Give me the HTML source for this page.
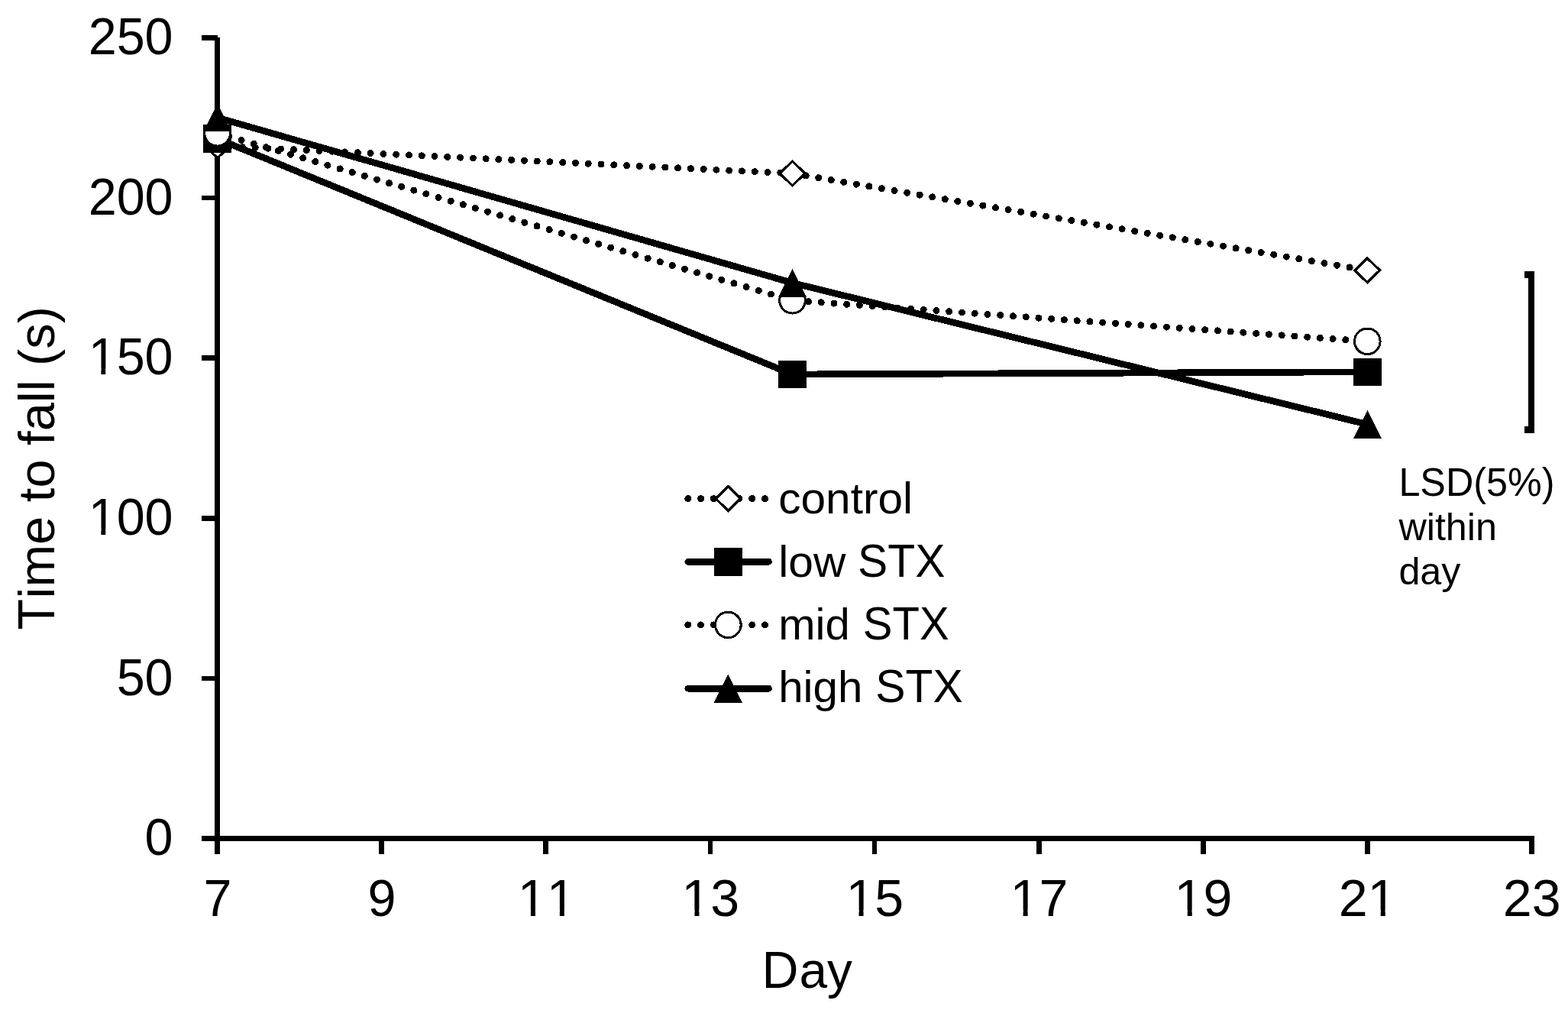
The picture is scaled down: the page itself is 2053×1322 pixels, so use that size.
<!DOCTYPE html>
<html lang="en">
<head>
<meta charset="utf-8">
<title>Time to fall (s) by Day</title>
<style>
html,body{margin:0;padding:0;background:#fff;}
body{width:2053px;height:1322px;overflow:hidden;}
svg{display:block;}
text{font-family:"Liberation Sans",Arial,Helvetica,sans-serif;fill:#000;font-kerning:none;white-space:pre;}
.ax{font-size:66.5px;}
.lg{font-size:58px;}
.ls{font-size:50.3px;}
</style>
</head>
<body>
<svg width="2053" height="1322" viewBox="0 0 2053 1322" shape-rendering="crispEdges" role="img" aria-label="Time to fall (s) against Day for control, low STX, mid STX and high STX">
<rect width="2053" height="1322" fill="#fff"/>

<g fill="#000">
<rect x="281.2" y="48.6" width="6.8" height="1069.4"/>
<rect x="264.2" y="1094.2" width="1744.7" height="6.8"/>
<rect x="264.2" y="884.5" width="20.4" height="6.8"/>
<rect x="264.2" y="674.8" width="20.4" height="6.8"/>
<rect x="264.2" y="465.2" width="20.4" height="6.8"/>
<rect x="264.2" y="255.5" width="20.4" height="6.8"/>
<rect x="264.2" y="45.8" width="20.4" height="6.8"/>
<rect x="496.3" y="1097.6" width="6.8" height="20.2"/>
<rect x="711.4" y="1097.6" width="6.8" height="20.2"/>
<rect x="926.5" y="1097.6" width="6.8" height="20.2"/>
<rect x="1141.6" y="1097.6" width="6.8" height="20.2"/>
<rect x="1356.7" y="1097.6" width="6.8" height="20.2"/>
<rect x="1571.8" y="1097.6" width="6.8" height="20.2"/>
<rect x="1786.9" y="1097.6" width="6.8" height="20.2"/>
<rect x="2002.0" y="1097.6" width="6.8" height="20.2"/>
</g>
<g>
<text class="ax" transform="translate(226.6 70.8) scale(1 1.04)" text-anchor="end">250</text>
<text class="ax" transform="translate(226.6 280.5) scale(1 1.04)" text-anchor="end">200</text>
<text class="ax" transform="translate(226.6 490.2) scale(1 1.04)" text-anchor="end">150</text><rect x="118.57" y="482.49" width="13.80" height="9.67" fill="#fff" shape-rendering="geometricPrecision"/><rect x="138.25" y="482.49" width="13.12" height="9.67" fill="#fff" shape-rendering="geometricPrecision"/>
<text class="ax" transform="translate(226.6 699.8) scale(1 1.04)" text-anchor="end">100</text><rect x="118.57" y="692.17" width="13.80" height="9.67" fill="#fff" shape-rendering="geometricPrecision"/><rect x="138.25" y="692.17" width="13.12" height="9.67" fill="#fff" shape-rendering="geometricPrecision"/>
<text class="ax" transform="translate(226.6 909.5) scale(1 1.04)" text-anchor="end">50</text>
<text class="ax" transform="translate(226.6 1119.2) scale(1 1.04)" text-anchor="end">0</text>
</g>
<g>
<text class="ax" transform="translate(284.9 1198.5) scale(1 1.04)" text-anchor="middle">7</text>
<text class="ax" transform="translate(500.0 1198.5) scale(1 1.04)" text-anchor="middle">9</text>
<text class="ax" transform="translate(715.7 1198.5) scale(1 1.04)" text-anchor="middle" textLength="75.8" lengthAdjust="spacingAndGlyphs">11</text><rect x="680.79" y="1190.83" width="14.14" height="9.67" fill="#fff" shape-rendering="geometricPrecision"/><rect x="700.96" y="1190.83" width="13.44" height="9.67" fill="#fff" shape-rendering="geometricPrecision"/><rect x="718.69" y="1190.83" width="14.14" height="9.67" fill="#fff" shape-rendering="geometricPrecision"/><rect x="738.86" y="1190.83" width="13.44" height="9.67" fill="#fff" shape-rendering="geometricPrecision"/>
<text class="ax" transform="translate(930.2 1198.5) scale(1 1.04)" text-anchor="middle" textLength="75.8" lengthAdjust="spacingAndGlyphs">13</text><rect x="895.29" y="1190.83" width="14.14" height="9.67" fill="#fff" shape-rendering="geometricPrecision"/><rect x="915.46" y="1190.83" width="13.44" height="9.67" fill="#fff" shape-rendering="geometricPrecision"/>
<text class="ax" transform="translate(1145.3 1198.5) scale(1 1.04)" text-anchor="middle" textLength="75.8" lengthAdjust="spacingAndGlyphs">15</text><rect x="1110.39" y="1190.83" width="14.14" height="9.67" fill="#fff" shape-rendering="geometricPrecision"/><rect x="1130.56" y="1190.83" width="13.44" height="9.67" fill="#fff" shape-rendering="geometricPrecision"/>
<text class="ax" transform="translate(1360.4 1198.5) scale(1 1.04)" text-anchor="middle" textLength="75.8" lengthAdjust="spacingAndGlyphs">17</text><rect x="1325.49" y="1190.83" width="14.14" height="9.67" fill="#fff" shape-rendering="geometricPrecision"/><rect x="1345.66" y="1190.83" width="13.44" height="9.67" fill="#fff" shape-rendering="geometricPrecision"/>
<text class="ax" transform="translate(1575.5 1198.5) scale(1 1.04)" text-anchor="middle" textLength="75.8" lengthAdjust="spacingAndGlyphs">19</text><rect x="1540.59" y="1190.83" width="14.14" height="9.67" fill="#fff" shape-rendering="geometricPrecision"/><rect x="1560.76" y="1190.83" width="13.44" height="9.67" fill="#fff" shape-rendering="geometricPrecision"/>
<text class="ax" transform="translate(1790.6 1198.5) scale(1 1.04)" text-anchor="middle" textLength="75.8" lengthAdjust="spacingAndGlyphs">21</text><rect x="1793.59" y="1190.83" width="14.14" height="9.67" fill="#fff" shape-rendering="geometricPrecision"/><rect x="1813.76" y="1190.83" width="13.44" height="9.67" fill="#fff" shape-rendering="geometricPrecision"/>
<text class="ax" transform="translate(2005.7 1198.5) scale(1 1.04)" text-anchor="middle" textLength="75.8" lengthAdjust="spacingAndGlyphs">23</text>
</g>
<text class="ax" transform="translate(997.6 1292.5)"><tspan font-size="69.16" textLength="48.0" lengthAdjust="spacingAndGlyphs">D</tspan><tspan x="48.8" textLength="69.4" lengthAdjust="spacingAndGlyphs">ay</tspan></text>
<text class="ax" transform="translate(71.1 824.4) rotate(-90)"><tspan font-size="69.16" textLength="40.6" lengthAdjust="spacingAndGlyphs">T</tspan><tspan x="41.0" textLength="382.4" lengthAdjust="spacingAndGlyphs">ime to fall (s)</tspan></text>
<g>
<path d="M284.6 191.0L1037.5 227.0L1790.3 353.9" fill="none" stroke="#000" stroke-width="9.0" stroke-linecap="round" stroke-dasharray="0.01 16.78" stroke-dashoffset="0.7"/>
<path d="M284.6 175.1L300.9 191.0L284.6 206.9L268.3 191.0Z" fill="#fff" stroke="#000" stroke-width="3.4" stroke-linejoin="miter"/>
<path d="M1037.5 211.1L1053.8 227.0L1037.5 242.9L1021.2 227.0Z" fill="#fff" stroke="#000" stroke-width="3.4" stroke-linejoin="miter"/>
<path d="M1790.3 338.0L1806.6 353.9L1790.3 369.8L1774.0 353.9Z" fill="#fff" stroke="#000" stroke-width="3.4" stroke-linejoin="miter"/>
<path d="M284.6 181.6L1037.5 490.0L1790.3 486.8" fill="none" stroke="#000" stroke-width="8.7" stroke-linejoin="round" stroke-linecap="round"/>
<rect x="266.3" y="163.3" width="36.6" height="36.6" fill="#000"/>
<rect x="1019.2" y="471.7" width="36.6" height="36.6" fill="#000"/>
<rect x="1772.0" y="468.5" width="36.6" height="36.6" fill="#000"/>
<path d="M284.6 174.3L1037.5 393.2L1790.3 446.8" fill="none" stroke="#000" stroke-width="9.0" stroke-linecap="round" stroke-dasharray="0.01 16.78" stroke-dashoffset="0.8"/>
<circle cx="284.6" cy="174.3" r="16.8" fill="#fff" stroke="#000" stroke-width="3"/>
<circle cx="1037.5" cy="393.2" r="16.8" fill="#fff" stroke="#000" stroke-width="3"/>
<circle cx="1790.3" cy="446.8" r="16.8" fill="#fff" stroke="#000" stroke-width="3"/>
<path d="M284.6 153.9L1037.5 370.3L1790.3 555.4" fill="none" stroke="#000" stroke-width="8.7" stroke-linejoin="round" stroke-linecap="round"/>
<path d="M284.6 135.6L302.9 172.2L266.3 172.2Z" fill="#000"/>
<path d="M1037.5 352.0L1055.8 388.6L1019.2 388.6Z" fill="#000"/>
<path d="M1790.3 537.1L1808.6 573.7L1772.0 573.7Z" fill="#000"/>
</g>
<g fill="#000">
<rect x="2001.3" y="355" width="7.6" height="211.8"/>
<rect x="1996" y="355" width="12.9" height="8.9"/>
<rect x="1996" y="558.1" width="12.9" height="8.7"/>
</g>
<text class="ls" transform="translate(1831.4 649.0) scale(1 1.04)">LSD(5%)</text>
<text class="ls" transform="translate(1831.4 706.8)">within</text>
<text class="ls" transform="translate(1831.4 765.2)">day</text>
<g>
<path d="M900.8 652.6L1007.5 652.6" fill="none" stroke="#000" stroke-width="9.0" stroke-linecap="round" stroke-dasharray="0.01 16.78" stroke-dashoffset="0"/>
<path d="M953.3 636.7L969.6 652.6L953.3 668.5L937.0 652.6Z" fill="#fff" stroke="#000" stroke-width="3.4" stroke-linejoin="miter"/>
<text class="lg" transform="translate(1019.2 672.2)" textLength="175.8" lengthAdjust="spacingAndGlyphs">control</text>
<path d="M900.8 735.3L1006.5 735.3" fill="none" stroke="#000" stroke-width="8.7" stroke-linejoin="round" stroke-linecap="round"/>
<rect x="935.0" y="717.0" width="36.6" height="36.6" fill="#000"/>
<text class="lg" transform="translate(1019.2 754.7)"><tspan textLength="104.5" lengthAdjust="spacingAndGlyphs">low </tspan><tspan x="103.8" font-size="60.32" textLength="114.4" lengthAdjust="spacingAndGlyphs">STX</tspan></text>
<path d="M900.8 817.9L1007.5 817.9" fill="none" stroke="#000" stroke-width="9.0" stroke-linecap="round" stroke-dasharray="0.01 16.78" stroke-dashoffset="0"/>
<circle cx="953.3" cy="817.9" r="16.8" fill="#fff" stroke="#000" stroke-width="3"/>
<text class="lg" transform="translate(1019.2 836.9)"><tspan textLength="109.6" lengthAdjust="spacingAndGlyphs">mid </tspan><tspan x="110.6" font-size="60.32" textLength="112.8" lengthAdjust="spacingAndGlyphs">STX</tspan></text>
<path d="M900.8 901.2L1006.5 901.2" fill="none" stroke="#000" stroke-width="8.7" stroke-linejoin="round" stroke-linecap="round"/>
<path d="M953.3 882.9L971.6 919.5L935.0 919.5Z" fill="#000"/>
<text class="lg" transform="translate(1019.2 919.2)"><tspan textLength="126.4" lengthAdjust="spacingAndGlyphs">high </tspan><tspan x="127.1" font-size="60.32" textLength="114.4" lengthAdjust="spacingAndGlyphs">STX</tspan></text>
</g>
</svg>
</body>
</html>
